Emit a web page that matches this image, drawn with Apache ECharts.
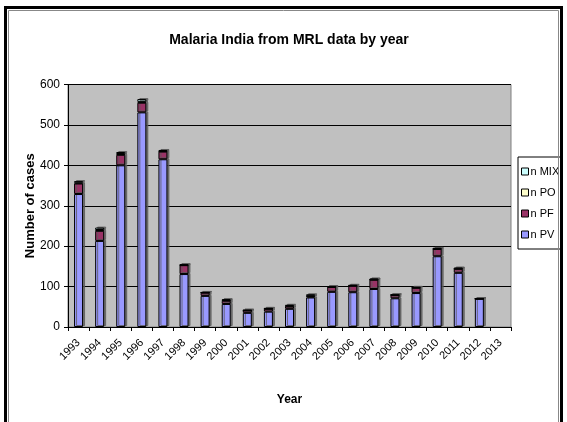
<!DOCTYPE html>
<html>
<head>
<meta charset="utf-8">
<script src="https://cdn.jsdelivr.net/npm/echarts@6/dist/echarts.min.js"></script>
<style>
html,body{margin:0;padding:0;background:#fff;}
#chart{width:567px;height:422px;}
</style>
</head>
<body>
<div id="chart"></div>
<script>
var years = ['1993','1994','1995','1996','1997','1998','1999','2000','2001','2002','2003','2004','2005','2006','2007','2008','2009','2010','2011','2012','2013'];
var nPV  = [329, 213, 400, 531, 415, 131, 77, 57, 35, 38, 45, 73, 87, 86, 94, 71, 84, 175, 134, 70, null];
var nPF  = [26, 25, 26, 24, 19, 22, 8, 8, 6, 7, 6, 3, 12, 16, 23, 8, 13, 18, 10, 0, null];
var nPO  = [2, 2, 2, 2, 1, 0, 0, 1, 0, 0, 1, 1, 0, 0, 0, 0, 0, 0, 0, 0, null];
var nMIX = [4, 6, 5, 7, 3, 2, 1, 3, 1, 2, 3, 4, 2, 2, 3, 1, 2, 3, 3, 0, null];
var yTicks = [0, 100, 200, 300, 400, 500, 600];

var chart = echarts.init(document.getElementById('chart'), null, {renderer: 'canvas'});
var font = 'Liberation Sans, Arial, sans-serif';
function mk(name, data, color) {
  return {
    name: name, type: 'bar', stack: 'total', data: data, barWidth: 9,
    itemStyle: {color: color, borderColor: '#000', borderWidth: 1,
      shadowColor: 'rgba(90,90,90,0.8)', shadowOffsetX: 2, shadowOffsetY: -1, shadowBlur: 0},
    emphasis: {disabled: true}
  };
}
chart.setOption({
  animation: false,
  backgroundColor: '#fff',
  textStyle: {fontFamily: font},
  title: {
    text: 'Malaria India from MRL data by year', left: 284, top: 28, textAlign: 'center',
    textStyle: {fontSize: 14, fontWeight: 'bold', color: '#000', fontFamily: font}
  },
  graphic: [
    {type: 'rect', shape: {x: 5.5, y: 7.5, width: 556, height: 440}, style: {fill: 'none', stroke: '#000', lineWidth: 3}, z: 100},
    {type: 'rect', shape: {x: 8.5, y: 10.5, width: 550, height: 440}, style: {fill: 'none', stroke: '#888', lineWidth: 1}, z: 100}
  ],
  legend: {
    orient: 'vertical', left: 518, top: 157,
    data: ['n MIX', 'n PO', 'n PF', 'n PV'],
    backgroundColor: '#fff', borderColor: '#000', borderWidth: 1,
    padding: [9, 3, 9, 3], itemGap: 10, itemWidth: 7, itemHeight: 7,
    icon: 'rect',
    itemStyle: {borderColor: '#000', borderWidth: 1, shadowBlur: 0, shadowOffsetX: 0, shadowOffsetY: 0},
    textStyle: {fontSize: 11, color: '#000', padding: [0, 0, 0, -3], fontFamily: font}
  },
  grid: {left: 68, right: 56, top: 84.5, bottom: 95, show: true, backgroundColor: '#c0c0c0', borderColor: '#808080', borderWidth: 1},
  xAxis: {
    type: 'category', data: years,
    name: 'Year', nameLocation: 'middle', nameGap: 67, nameMoveOverlap: false,
    nameTextStyle: {fontSize: 12, fontWeight: 'bold', color: '#000'},
    axisLine: {lineStyle: {color: '#000', width: 1}},
    axisTick: {show: true, alignWithLabel: false, length: 4, lineStyle: {color: '#000'}},
    axisLabel: {rotate: 45, fontSize: 11, color: '#000', margin: 14, interval: 0},
    splitLine: {show: false}
  },
  yAxis: {
    type: 'value', min: yTicks[0], max: yTicks[yTicks.length - 1], interval: 100,
    name: 'Number of cases', nameLocation: 'middle', nameGap: 31, nameMoveOverlap: false,
    nameTextStyle: {fontSize: 13, fontWeight: 'bold', color: '#000'},
    axisLine: {show: true, lineStyle: {color: '#000'}},
    axisTick: {show: true, length: 4, lineStyle: {color: '#000'}},
    axisLabel: {fontSize: 12, color: '#000', margin: 8},
    splitLine: {show: true, lineStyle: {color: '#000', width: 1}}
  },
  series: [
    mk('n PV', nPV, '#9999ff'),
    mk('n PF', nPF, '#993366'),
    mk('n PO', nPO, '#ffffcc'),
    mk('n MIX', nMIX, '#ccffff')
  ]
});
</script>
</body>
</html>
